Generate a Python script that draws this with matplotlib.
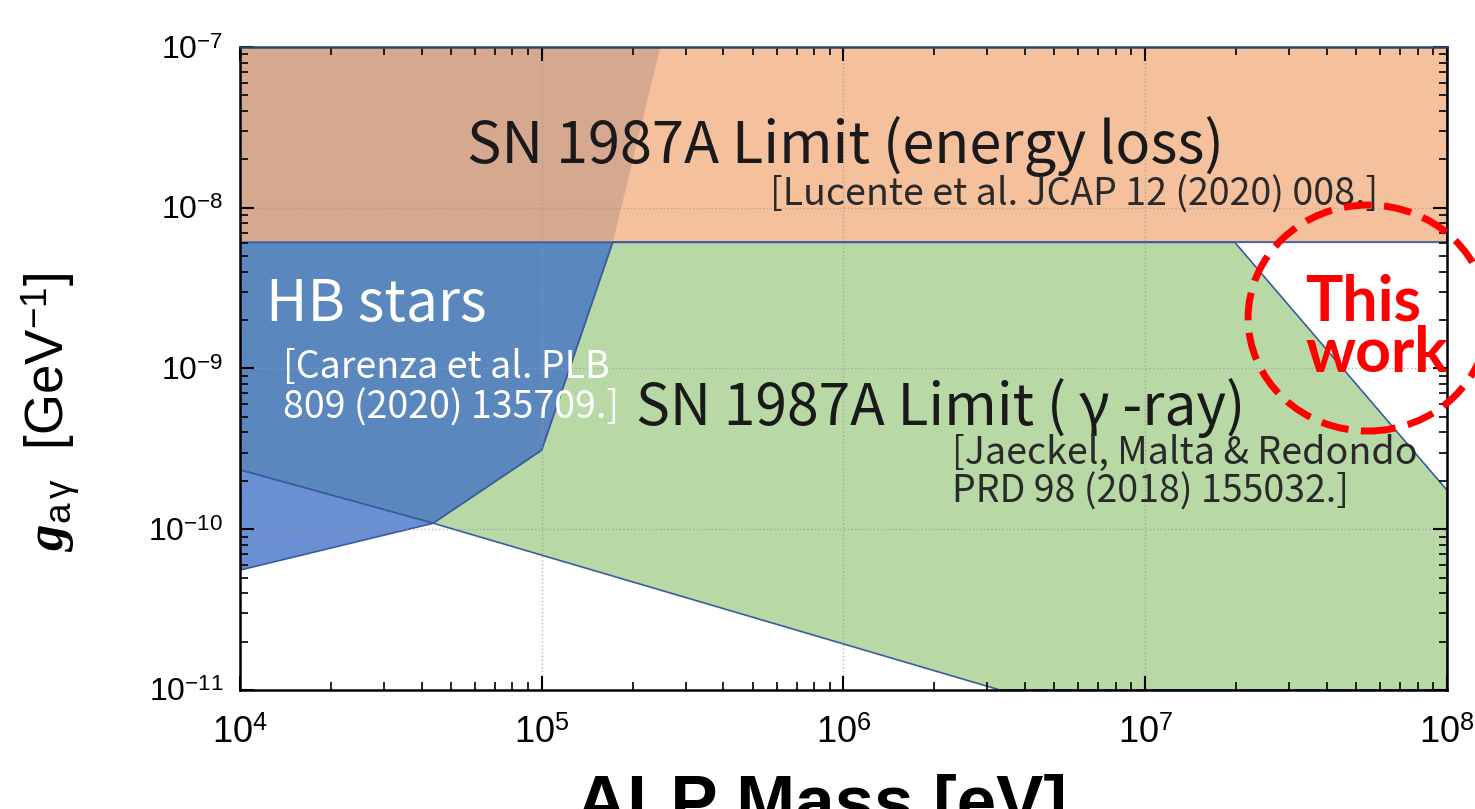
import matplotlib.pyplot as plt
from matplotlib.patches import Ellipse
from matplotlib.ticker import LogLocator, NullFormatter
import numpy as np

plt.rcParams['font.family'] = ['Liberation Sans', 'DejaVu Sans']
plt.rcParams['mathtext.fontset'] = 'custom'
plt.rcParams['mathtext.rm'] = 'Liberation Sans'
plt.rcParams['mathtext.it'] = 'Liberation Serif:italic:bold'
plt.rcParams['mathtext.bf'] = 'Liberation Sans:bold'

# axis range (ALP mass in eV, coupling in GeV^-1)
m_range = [1e4, 1e8]
g_range = [1e-11, 1e-7]

# SN 1987A energy-loss bound: excluded above this coupling
g_energy_loss = 6.1e-9

# HB stars excluded region (mass, coupling)
m_hb = [1e4, 2.47e5, 1.72e5, 1.0e5, 4.37e4, 1e4]
g_hb = [1e-7, 1e-7, 6.1e-9, 3.1e-10, 1.09e-10, 2.34e-10]

# lower HB wedge
m_hb_low = [1e4, 4.37e4, 1e4]
g_hb_low = [2.34e-10, 1.09e-10, 5.57e-11]

# SN 1987A gamma-ray bound
m_gamma = [1.72e5, 1.98e7, 1e8, 1e8, 3.3e6, 4.37e4, 1.0e5]
g_gamma = [6.1e-9, 6.1e-9, 1.75e-10, 1e-11, 1e-11, 1.09e-10, 3.1e-10]

x_ticks = [1e4, 1e5, 1e6, 1e7, 1e8]
x_tick_labels = [r'$10^{4}$', r'$10^{5}$', r'$10^{6}$', r'$10^{7}$', r'$10^{8}$']
y_ticks = [1e-11, 1e-10, 1e-9, 1e-8, 1e-7]
y_tick_labels = [r'$10^{-11}$', r'$10^{-10}$', r'$10^{-9}$', r'$10^{-8}$', r'$10^{-7}$']

c_orange = '#F5C09C'
c_brown = '#D6A890'
c_blue = '#5B87BF'
c_blue_low = '#6A90D3'
c_green = '#B8D8A5'
c_edge = '#3A5C9E'

fig = plt.figure(figsize=(14.75, 8.09), dpi=100)
ax = fig.add_axes([0.1627, 0.1471, 0.8183, 0.7948])
ax.set_xscale('log')
ax.set_yscale('log')
ax.set_xlim(m_range)
ax.set_ylim(g_range)

# energy loss band across the whole mass range
ax.fill_between(m_range, g_energy_loss, g_range[1], color=c_orange,
                edgecolor=c_edge, linewidth=1.2, zorder=1)

# split HB region at the energy-loss line
m_hb = np.array(m_hb)
g_hb = np.array(g_hb)
above = g_hb >= g_energy_loss
below = g_hb <= g_energy_loss
ax.fill(np.append(m_hb[above], m_range[0]), np.append(g_hb[above], g_energy_loss),
        color=c_brown, linewidth=0, zorder=1.1)
ax.fill(np.append(m_hb[below], m_range[0]), np.append(g_hb[below], g_energy_loss),
        facecolor=c_blue, edgecolor=c_edge, linewidth=1.2, zorder=1.2)
ax.fill(m_hb_low, g_hb_low, facecolor=c_blue_low, edgecolor=c_edge,
        linewidth=1.2, zorder=1.2)
ax.fill(m_gamma, g_gamma, facecolor=c_green, edgecolor=c_edge,
        linewidth=1.2, zorder=1.2)
ax.plot(m_range, [g_energy_loss] * 2, color=c_edge, linewidth=1.0, alpha=0.6, zorder=1.3)

ax.set_xticks(x_ticks)
ax.set_xticklabels(x_tick_labels)
ax.set_yticks(y_ticks)
ax.set_yticklabels(y_tick_labels)
ax.xaxis.set_minor_locator(LogLocator(base=10, subs=np.arange(2, 10)))
ax.yaxis.set_minor_locator(LogLocator(base=10, subs=np.arange(2, 10)))
ax.xaxis.set_minor_formatter(NullFormatter())
ax.yaxis.set_minor_formatter(NullFormatter())
ax.tick_params(which='both', direction='in', top=True, right=True, color='black')
ax.tick_params(which='major', length=10, width=1.5)
ax.tick_params(axis='x', which='major', labelsize=26, pad=19)
ax.tick_params(axis='y', which='major', labelsize=23, pad=12)
ax.tick_params(which='minor', length=6, width=1.2)
ax.grid(True, which='major', linestyle=':', color='#9a9a9a', linewidth=1.0, alpha=0.7)
ax.set_axisbelow(False)
for s in ax.spines.values():
    s.set_linewidth(1.8)
    s.set_zorder(3)
ax.spines['top'].set_color('#2E4470')

ax.set_ylabel(r'$\mathit{g}_{\mathrm{a}\,\mathrm{\gamma}}$  [GeV$^{\mathrm{-1}}$]',
              fontsize=38)
ax.yaxis.set_label_coords(-0.131, 0.432)
fig.text(0.557, -0.0198, 'ALP Mass [eV]', fontsize=51, fontweight='bold',
         ha='center', va='baseline')

label_font = ['Noto Sans CJK JP', 'DejaVu Sans']
ax.text(0.188, 0.845, 'SN 1987A Limit (energy loss)', transform=ax.transAxes,
        fontsize=41.5, family=label_font, ha='left', va='center', color='#1a1a1a')
ax.text(0.439, 0.770, '[Lucente et al. JCAP 12 (2020) 008.]', transform=ax.transAxes,
        fontsize=27, family=label_font, ha='left', va='center', color='#2a2a2a')
ax.text(0.0215, 0.599, 'HB stars', transform=ax.transAxes,
        fontsize=41, family=label_font, ha='left', va='center', color='white')
ax.text(0.0356, 0.4697, '[Carenza et al. PLB\n809 (2020) 135709.]', transform=ax.transAxes,
        fontsize=27, family=label_font, ha='left', va='center', color='white',
        linespacing=1.05)
ax.text(0.328, 0.4386, 'SN 1987A Limit ( γ -ray)', transform=ax.transAxes,
        fontsize=41, family=label_font, ha='left', va='center', color='#1a1a1a')
ax.text(0.590, 0.3375, '[Jaeckel, Malta & Redondo\nPRD 98 (2018) 155032.]',
        transform=ax.transAxes, fontsize=27, family=label_font, ha='left',
        va='center', color='#2a2a2a', linespacing=1.0)

# highlighted open window
ax.add_patch(Ellipse((0.9346, 0.5785), 0.1988, 0.3515, transform=ax.transAxes,
                     fill=False, edgecolor='#FF0000', linewidth=5,
                     linestyle=(0, (4, 1.8)), clip_on=False, zorder=5))
ax.text(0.8825, 0.5625, 'This\nwork', transform=ax.transAxes, fontsize=45,
        family=['Lato', 'DejaVu Sans'], fontweight='bold', color='#FF0000',
        ha='left', va='center', multialignment='left', linespacing=0.86,
        clip_on=False, zorder=6)

fig.savefig('out.png', dpi=100)
